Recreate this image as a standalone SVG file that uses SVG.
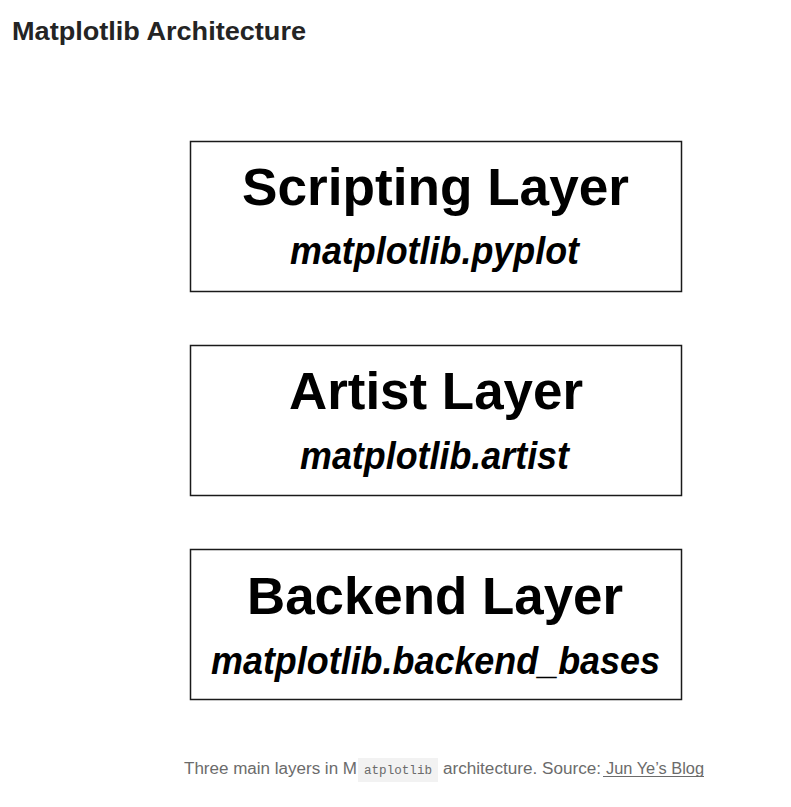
<svg xmlns="http://www.w3.org/2000/svg" width="791" height="807" viewBox="0 0 791 807">
<style>
.box{fill:#fff;stroke:#1a1a1a;stroke-width:1.5}
.t{font-family:"Liberation Sans",Arial,sans-serif;font-weight:bold;font-size:51px;fill:#000;text-anchor:middle}
.s{font-family:"Liberation Sans",Arial,sans-serif;font-weight:bold;font-style:italic;font-size:38px;fill:#000;text-anchor:middle}
.cap{font-family:"Liberation Sans",Arial,sans-serif;font-size:16px;fill:#6b6b6b}
.code{font-family:"Liberation Mono","DejaVu Sans Mono",monospace;font-size:12px;fill:#6b6b6b}
</style>
<rect width="791" height="807" fill="#fff"/>
<text x="12" y="40" font-family="Liberation Sans,Arial,sans-serif" font-weight="bold" font-size="26" fill="#242424" textLength="294" lengthAdjust="spacingAndGlyphs">Matplotlib Architecture</text>
<g id="scripting">
<rect class="box" x="190.5" y="141.5" width="491" height="150"/>
<text class="t" x="435.5" y="205" textLength="387" lengthAdjust="spacingAndGlyphs">Scripting Layer</text>
<text class="s" x="434.5" y="264" textLength="289" lengthAdjust="spacingAndGlyphs">matplotlib.pyplot</text>
</g>
<g id="artist">
<rect class="box" x="190.5" y="345.5" width="491" height="150"/>
<text class="t" x="436" y="409" textLength="294" lengthAdjust="spacingAndGlyphs">Artist Layer</text>
<text class="s" x="434.5" y="469" textLength="269" lengthAdjust="spacingAndGlyphs">matplotlib.artist</text>
</g>
<g id="backend">
<rect class="box" x="190.5" y="549.5" width="491" height="150"/>
<text class="t" x="435" y="614" textLength="376" lengthAdjust="spacingAndGlyphs">Backend Layer</text>
<text class="s" x="435.5" y="674" textLength="449" lengthAdjust="spacingAndGlyphs">matplotlib.backend_bases</text>
</g>
<g id="connectors"/>
<g id="caption">
<text class="cap" x="184" y="774" textLength="173" lengthAdjust="spacingAndGlyphs">Three main layers in M</text>
<rect x="358" y="758" width="80" height="24" fill="#f2f2f2"/>
<text class="code" x="364" y="774" textLength="68" lengthAdjust="spacingAndGlyphs">atplotlib</text>
<text class="cap" x="443" y="774" textLength="158" lengthAdjust="spacingAndGlyphs">architecture. Source:</text>
<text class="cap" x="606" y="774" textLength="98" lengthAdjust="spacingAndGlyphs">Jun Ye’s Blog</text>
<line x1="603" y1="776.5" x2="704" y2="776.5" stroke="#6b6b6b" stroke-width="1"/>
</g>
</svg>
